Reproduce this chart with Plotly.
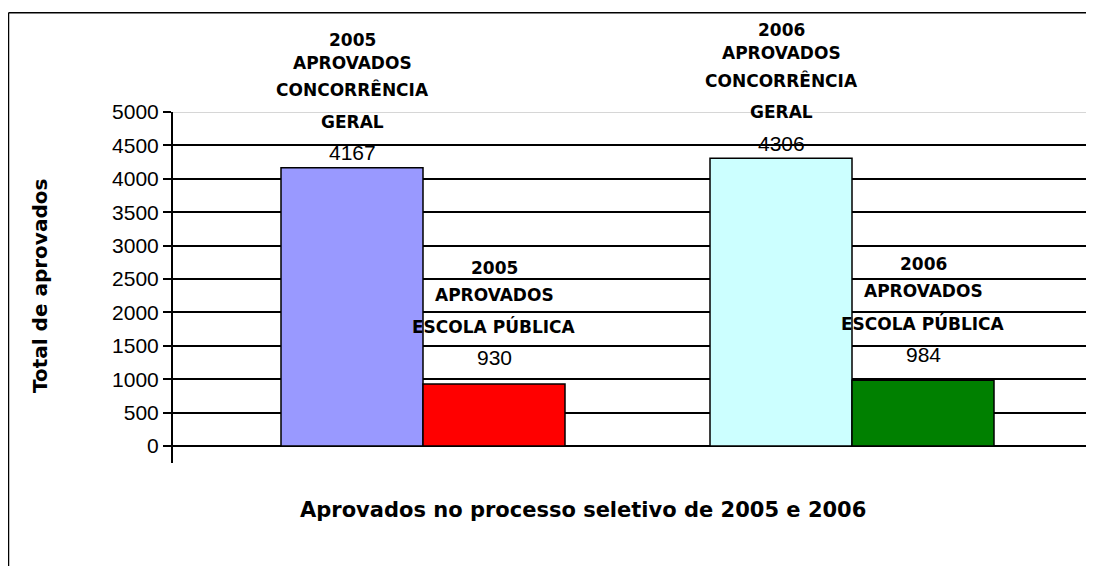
import plotly.graph_objects as go

# ---- data ----
years = ["2005", "2006"]
geral = [4167, 4306]
publico = [930, 984]
geral_label = ["APROVADOS", "CONCORRÊNCIA", "GERAL"]
publico_label = ["APROVADOS", "ESCOLA PÚBLICA"]
geral_colors = ["#9999FF", "#CCFFFF"]
publico_colors = ["#FF0000", "#008000"]
y_ticks = [0, 500, 1000, 1500, 2000, 2500, 3000, 3500, 4000, 4500, 5000]
y_title = "Total de aprovados"
x_title = "Aprovados no processo seletivo de 2005 e 2006"

# ---- layout constants (page pixels; the page body adds an 8px offset) ----
OFF = 8
W, H = 1094 - 2 * OFF, 574 - 2 * OFF
PLOT_L, PLOT_T, PLOT_B = 173, 112, 463   # page px
PLOT_R = OFF + W
L, T = PLOT_L - OFF, PLOT_T - OFF
R = 0
B = H - (PLOT_B - OFF)
bargap = 0.338
bar_w = (1 - bargap) / 2
unit = 429.0  # page px between the two category centres
x_range = [-(423 - PLOT_L) / unit, 1 + (PLOT_R - 852) / unit]
y_range = [-254.5, 5000]

NUM_FONT = dict(family="Liberation Sans, Arial", size=21, color="black")
LAB_FONT = dict(family="DejaVu Sans", size=17, color="black", weight="bold")

def px_x(p):  # page px -> paper
    return (p - PLOT_L) / (PLOT_R - PLOT_L)

def px_y(p):
    return (PLOT_B - p) / (PLOT_B - PLOT_T)

xs = list(range(len(years)))

fig = go.Figure()
fig.add_trace(go.Bar(x=xs, y=geral, marker=dict(color=geral_colors, line=dict(color="black", width=1.5)),
                     hoverinfo="skip", name="Concorrência geral"))
fig.add_trace(go.Bar(x=xs, y=publico, marker=dict(color=publico_colors, line=dict(color="black", width=1.5)),
                     hoverinfo="skip", name="Escola pública"))

annotations = []
gaps = [31, 32, 27, 23]
series = [(geral, geral_label, -bar_w / 2, 15), (publico, publico_label, bar_w / 2, 26)]
for vals, label, dx, num_off in series:
    for i, v in enumerate(vals):
        xc = xs[i] + dx
        annotations.append(dict(x=xc, y=v, xref="x", yref="y", text=str(v), showarrow=False,
                                yanchor="middle", xanchor="center", yshift=num_off, font=NUM_FONT))
        lines = [years[i]] + label
        off = num_off
        for k, line in enumerate(reversed(lines)):
            off += gaps[k]
            annotations.append(dict(x=xc, y=v, xref="x", yref="y", text=line, showarrow=False,
                                    yanchor="middle", xanchor="center", yshift=off, font=LAB_FONT))

annotations.append(dict(x=px_x(583), y=px_y(510), xref="paper", yref="paper", text=x_title,
                        showarrow=False, xanchor="center", yanchor="middle",
                        font=dict(family="DejaVu Sans", size=21, color="black", weight="bold")))
annotations.append(dict(x=px_x(40), y=px_y(286), xref="paper", yref="paper", text=y_title,
                        showarrow=False, xanchor="center", yanchor="middle", textangle=-90,
                        font=dict(family="DejaVu Sans", size=20, color="black", weight="bold")))

shapes = [
    # outer chart border (top and left sides visible)
    dict(type="line", xref="paper", yref="paper", x0=px_x(8.5), x1=px_x(1200), y0=px_y(12.7), y1=px_y(12.7),
         line=dict(color="black", width=1.5), layer="above"),
    dict(type="line", xref="paper", yref="paper", x0=px_x(8.5), x1=px_x(8.5), y0=px_y(12.7), y1=px_y(700),
         line=dict(color="black", width=1.5), layer="above"),
    dict(type="line", xref="paper", yref="y", x0=0, x1=1, y0=5000, y1=5000,
         line=dict(color="#C8C8C8", width=1.5), layer="above"),
]

fig.update_layout(
    width=W, height=H, margin=dict(l=L, r=R, t=T, b=B, pad=0),
    paper_bgcolor="white", plot_bgcolor="white",
    barmode="group", bargap=bargap, bargroupgap=0,
    showlegend=False,
    annotations=annotations, shapes=shapes,
    xaxis=dict(range=x_range, showticklabels=False, showgrid=False, zeroline=False,
               showline=False, ticks="", fixedrange=True),
    yaxis=dict(range=y_range, tickvals=y_ticks, showgrid=True, gridcolor="black", gridwidth=1.5,
               zeroline=False, showline=True, linecolor="black", linewidth=2,
               ticks="outside", ticklen=8, tickwidth=1.5, tickcolor="black",
               tickfont=NUM_FONT, fixedrange=True),
)

fig.write_html("out.html")
